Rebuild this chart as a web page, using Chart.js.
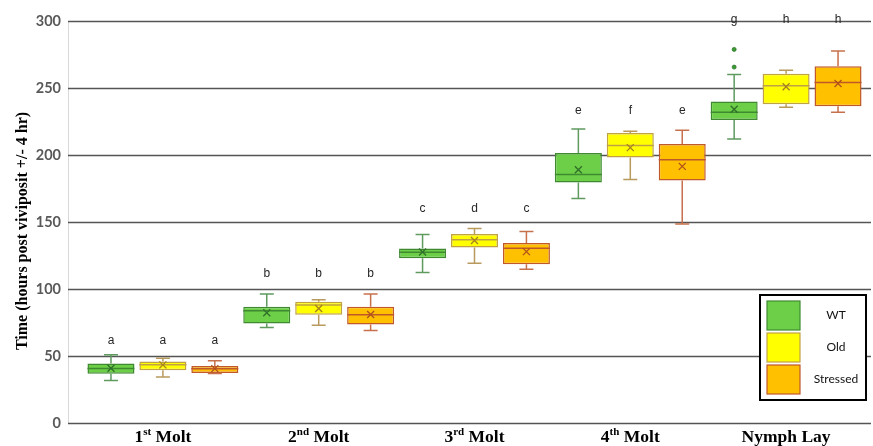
<!DOCTYPE html>
<html><head><meta charset="utf-8">
<script src="https://cdn.jsdelivr.net/npm/chart.js@4.4.0/dist/chart.umd.min.js"></script>
<style>html,body{margin:0;padding:0;background:#fff}#wrap{width:873px;height:446px}</style>
</head><body><div id="wrap"><canvas id="c" width="873" height="446"></canvas></div>
<script>
// ---- data ----
const categories = ['1st Molt', '2nd Molt', '3rd Molt', '4th Molt', 'Nymph Lay'];
const catMain = ['1', '2', '3', '4', 'Nymph Lay'];
const catSup = ['st', 'nd', 'rd', 'th', ''];
const catTail = [' Molt', ' Molt', ' Molt', ' Molt', ''];
const seriesNames = ['WT', 'Old', 'Stressed'];
const yTicks = [0, 50, 100, 150, 200, 250, 300];

const wtMin    = [31.7, 71.3, 112.4, 167.6, 212.0];
const wtQ1     = [36.7, 74.3, 122.9, 179.5, 226.2];
const wtMedian = [40.6, 83.8, 127.4, 185.5, 231.9];
const wtQ3     = [44.4, 86.8, 130.2, 201.5, 239.9];
const wtMax    = [50.9, 96.3, 140.6, 219.4, 260.1];
const wtMean   = [40.8, 82.3, 127.6, 189.0, 234.2];
const wtOutliers = [[], [], [], [], [265.6, 278.8]];

const oldMin    = [34.4, 73.0, 119.2, 181.8, 235.7];
const oldQ1     = [39.4, 80.8, 130.9, 198.2, 237.9];
const oldMedian = [43.4, 88.0, 136.7, 207.0, 251.6];
const oldQ3     = [45.9, 90.5, 141.1, 216.4, 260.6];
const oldMax    = [48.4, 92.0, 145.1, 217.7, 263.3];
const oldMean   = [43.4, 85.5, 136.2, 205.5, 250.9];
const oldOutliers = [[], [], [], [], []];

const strMin    = [36.9, 69.0, 114.7, 148.6, 231.9];
const strQ1     = [37.4, 73.5, 118.5, 181.0, 236.4];
const strMedian = [40.4, 80.8, 130.4, 196.5, 254.1];
const strQ3     = [42.6, 86.8, 134.4, 208.2, 266.3];
const strMax    = [46.4, 96.3, 142.9, 218.4, 277.6];
const strMean   = [40.6, 81.0, 127.9, 191.5, 253.3];
const strOutliers = [[], [], [], [], []];

const wtLetters  = ['a', 'b', 'c', 'e', 'g'];
const oldLetters = ['a', 'b', 'd', 'f', 'h'];
const strLetters = ['a', 'b', 'c', 'e', 'h'];
const letterLevel = [61.3, 111.5, 160.0, 233.4, 300.7];

// ---- styles ----
const fills    = ['#6dcf47', '#ffff00', '#ffc000'];
const borders  = ['#3f8a30', '#c0a244', '#c0582a'];
const whiskers = ['#5f9a5f', '#b89a5c', '#c7704c'];
const meanCol  = ['#2f6f2a', '#a67f1e', '#b0501c'];

const stats = [
  {min: wtMin, q1: wtQ1, med: wtMedian, q3: wtQ3, max: wtMax, mean: wtMean, out: wtOutliers, letters: wtLetters},
  {min: oldMin, q1: oldQ1, med: oldMedian, q3: oldQ3, max: oldMax, mean: oldMean, out: oldOutliers, letters: oldLetters},
  {min: strMin, q1: strQ1, med: strMedian, q3: strQ3, max: strMax, mean: strMean, out: strOutliers, letters: strLetters}
];

const datasets = stats.map((s, d) => ({
  label: seriesNames[d],
  data: s.q1.map((v, i) => [v, s.q3[i]]),
  backgroundColor: fills[d],
  borderColor: borders[d],
  borderWidth: 1.5,
  borderSkipped: false,
  categoryPercentage: 1.0,
  barPercentage: 0.905
}));

const gridPlugin = {
  id: 'gridExt',
  beforeDatasetsDraw(chart) {
    const ctx = chart.ctx, y = chart.scales.y, a = chart.chartArea;
    ctx.save();
    ctx.strokeStyle = '#d9d9d9';
    ctx.lineWidth = 1;
    ctx.beginPath(); ctx.moveTo(68.5, a.top); ctx.lineTo(68.5, a.bottom); ctx.stroke();
    ctx.strokeStyle = '#555555';
    ctx.lineWidth = 1.4;
    yTicks.forEach(v => {
      const py = Math.round(y.getPixelForValue(v)) + 0.5;
      ctx.beginPath(); ctx.moveTo(68, py); ctx.lineTo(871, py); ctx.stroke();
    });
    ctx.restore();
  }
};

const boxPlugin = {
  id: 'boxParts',
  afterDatasetsDraw(chart) {
    const ctx = chart.ctx, y = chart.scales.y;
    ctx.save();
    stats.forEach((s, d) => {
      const meta = chart.getDatasetMeta(d);
      meta.data.forEach((bar, i) => {
        const x = bar.x, w = bar.width, cap = 7;
        const pMin = y.getPixelForValue(s.min[i]), pMax = y.getPixelForValue(s.max[i]);
        const pQ1 = y.getPixelForValue(s.q1[i]), pQ3 = y.getPixelForValue(s.q3[i]);
        ctx.strokeStyle = whiskers[d];
        ctx.lineWidth = 1.5;
        ctx.beginPath();
        ctx.moveTo(x, pQ3); ctx.lineTo(x, pMax);
        ctx.moveTo(x - cap, pMax); ctx.lineTo(x + cap, pMax);
        ctx.moveTo(x, pQ1); ctx.lineTo(x, pMin);
        ctx.moveTo(x - cap, pMin); ctx.lineTo(x + cap, pMin);
        ctx.stroke();
        const pMed = y.getPixelForValue(s.med[i]);
        ctx.strokeStyle = borders[d];
        ctx.lineWidth = 1.5;
        ctx.beginPath(); ctx.moveTo(x - w / 2, pMed); ctx.lineTo(x + w / 2, pMed); ctx.stroke();
        const pMean = y.getPixelForValue(s.mean[i]), m = 3.5;
        ctx.strokeStyle = meanCol[d];
        ctx.lineWidth = 1.3;
        ctx.beginPath();
        ctx.moveTo(x - m, pMean - m); ctx.lineTo(x + m, pMean + m);
        ctx.moveTo(x + m, pMean - m); ctx.lineTo(x - m, pMean + m);
        ctx.stroke();
        s.out[i].forEach(v => {
          ctx.fillStyle = '#3c9a34';
          ctx.strokeStyle = '#2f7a2a';
          ctx.lineWidth = 0.8;
          ctx.beginPath(); ctx.arc(x, y.getPixelForValue(v), 2, 0, Math.PI * 2); ctx.fill(); ctx.stroke();
        });
        ctx.fillStyle = '#262626';
        ctx.font = '12px "Liberation Sans", sans-serif';
        ctx.textAlign = 'center';
        ctx.textBaseline = 'middle';
        ctx.fillText(s.letters[i], x, y.getPixelForValue(letterLevel[i]));
      });
    });
    ctx.restore();
  }
};

const textPlugin = {
  id: 'texts',
  afterDraw(chart) {
    const ctx = chart.ctx, xs = chart.scales.x;
    ctx.save();
    const big = 'bold 17.5px "Liberation Serif", "Times New Roman", serif';
    const small = 'bold 11px "Liberation Serif", "Times New Roman", serif';
    ctx.fillStyle = '#000';
    ctx.textBaseline = 'alphabetic';
    ctx.textAlign = 'left';
    categories.forEach((c, i) => {
      ctx.font = big; const w1 = ctx.measureText(catMain[i]).width; const w3 = ctx.measureText(catTail[i]).width;
      ctx.font = small; const w2 = ctx.measureText(catSup[i]).width;
      const total = w1 + w2 + w3;
      const x0 = xs.getPixelForValue(i) - total / 2;
      const base = 442;
      ctx.font = big; ctx.fillText(catMain[i], x0, base);
      ctx.font = small; ctx.fillText(catSup[i], x0 + w1, base - 7);
      ctx.font = big; ctx.fillText(catTail[i], x0 + w1 + w2, base);
    });
    ctx.save();
    ctx.translate(23, 231);
    ctx.rotate(-Math.PI / 2);
    ctx.font = 'bold 16px "Liberation Serif", "Times New Roman", serif';
    ctx.textAlign = 'center';
    ctx.textBaseline = 'middle';
    ctx.fillText('Time (hours post viviposit +/- 4 hr)', 0, 0);
    ctx.restore();
    const lx = 760, ly = 295, lw = 106, lh = 105;
    ctx.fillStyle = '#fff';
    ctx.fillRect(lx, ly, lw, lh);
    ctx.strokeStyle = '#000';
    ctx.lineWidth = 2;
    ctx.strokeRect(lx, ly, lw, lh);
    const sy = [301, 333, 365];
    seriesNames.forEach((n, d) => {
      ctx.fillStyle = fills[d];
      ctx.fillRect(767, sy[d], 33, 29);
      ctx.strokeStyle = borders[d];
      ctx.lineWidth = 1.2;
      ctx.strokeRect(767, sy[d], 33, 29);
      ctx.fillStyle = '#111';
      ctx.font = '12px Lato, "Open Sans", sans-serif';
      ctx.textAlign = 'center';
      ctx.textBaseline = 'middle';
      ctx.fillText(n, 836, sy[d] + 14.5);
    });
    ctx.restore();
  }
};

new Chart(document.getElementById('c'), {
  type: 'bar',
  data: { labels: categories, datasets },
  options: {
    responsive: false,
    devicePixelRatio: 1,
    animation: false,
    layout: { padding: { top: 21, right: 9, left: 0, bottom: 0 } },
    plugins: { legend: { display: false }, tooltip: { enabled: false } },
    scales: {
      x: {
        ticks: { display: false },
        grid: { display: false },
        border: { display: false },
        afterFit(scale) { scale.height = 23; }
      },
      y: {
        min: 0, max: 300,
        ticks: {
          stepSize: 50, padding: 0, color: '#595959',
          font: { family: 'Lato, "Open Sans", sans-serif', weight: 'bold', size: 14.5 }
        },
        grid: { display: true, drawOnChartArea: false, drawTicks: true, tickLength: 24, tickColor: 'rgba(0,0,0,0)' },
        border: { display: false },
        afterFit(scale) { scale.width = 85; }
      }
    }
  },
  plugins: [gridPlugin, boxPlugin, textPlugin]
});
</script>
</body></html>
